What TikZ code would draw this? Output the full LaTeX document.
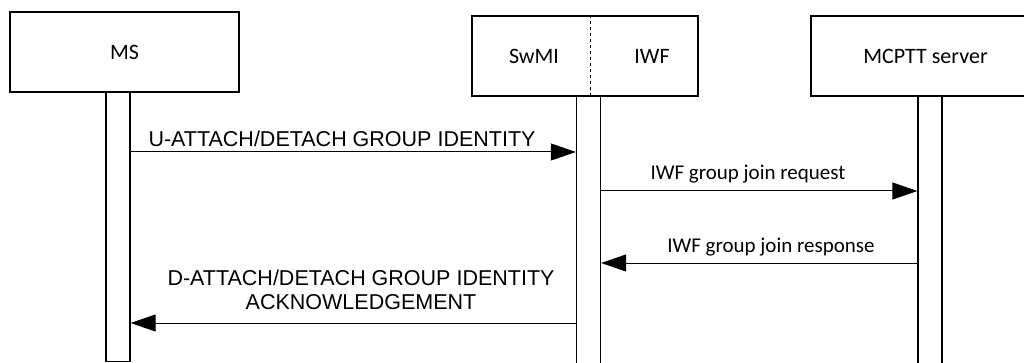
\documentclass[tikz,border=0pt]{standalone}
\usepackage{fontspec}
\setmainfont{Carlito}
\newfontfamily\arialfont{Liberation Sans}
\usetikzlibrary{arrows.meta}
\usetikzlibrary{positioning}
\tikzset {
  % participant box at the top
  entity/.style = {
    draw = black,
    line width = 1.3pt,
    rectangle,
    minimum width = 229pt,
    minimum height = 80pt,
    inner sep = 0,
    font = \fontsize{22}{26}\selectfont
  },
  % plain name inside a shared box
  name text/.style = {
    inner sep = 0,
    font = \fontsize{22}{26}\selectfont
  },
  % activation bar below a participant
  lifebar/.style = {
    draw = black,
    line width = 1.3pt,
    rectangle,
    minimum width = 24pt,
    anchor = north,
    inner sep = 0
  },
  % message between two bars
  msg/.style = {
    draw = black,
    line width = 1pt,
    -{Triangle[length = 25pt, width = 17pt]}
  },
  % air interface message text
  air label/.style = {
    inner sep = 0,
    font = \arialfont\fontsize{21.5}{24}\selectfont
  },
  % IWF message text
  iwf label/.style = {
    inner sep = 0,
    font = \fontsize{21}{24}\selectfont
  }
}
\begin{document}
\begin{tikzpicture}[x = 1pt, y = -1pt]
    \useasboundingbox (0,0) rectangle (1024,363);

    \node[entity] (ms) at (124.5,52) {MS};
    \node[entity, minimum width = 226pt] (swmi-iwf) at (585,56) {};
    \coordinate (divide) at (590,56);
    \node[name text] (swmi) at (534,56.5) {SwMI};
    \node[name text] (iwf) at (652,56.5) {IWF};
    \node[entity] (mcptt) at (925.5,56) {MCPTT server};

    \draw[dashed, line width = 0.8pt] (divide |- swmi-iwf.north)
    -- (divide |- swmi-iwf.south);

    \node[lifebar, minimum height = 269pt] (ms-bar) at (118,92) {};
    \node[lifebar, minimum height = 275pt] (swmi-bar) at (588.5,96) {};
    \node[lifebar, minimum height = 275pt] (mcptt-bar) at (930,96) {};

    \coordinate (attach) at (0,152);
    \coordinate (join-req) at (0,191);
    \coordinate (join-resp) at (0,263);
    \coordinate (attach-ack) at (0,323);

    \node[air label, anchor = base] (attach-text) at (342,147)
    {U-ATTACH/DETACH GROUP IDENTITY};
    \node[iwf label, anchor = base] (req-text) at (748,180)
    {IWF group join request};
    \node[iwf label, anchor = base] (resp-text) at (771,252)
    {IWF group join response};
    \node[air label, align = center] (ack-text) at (361,290)
    {D-ATTACH/DETACH GROUP IDENTITY\\ACKNOWLEDGEMENT};

    \draw[msg] (ms-bar.east |- attach)
    -- (swmi-bar.west |- attach);

    \draw[msg] (swmi-bar.east |- join-req)
    -- (mcptt-bar.west |- join-req);

    \draw[msg] (mcptt-bar.west |- join-resp)
    -- (swmi-bar.east |- join-resp);

    \draw[msg] (swmi-bar.west |- attach-ack)
    -- (ms-bar.east |- attach-ack);
  \end{tikzpicture}
\end{document}
